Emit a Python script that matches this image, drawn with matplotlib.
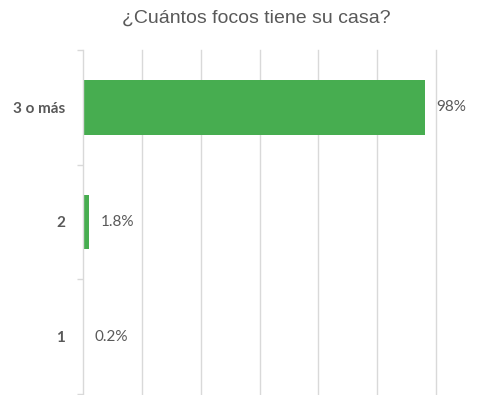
import numpy as np
import matplotlib
matplotlib.use("Agg")
import matplotlib.pyplot as plt

categories = ["1", "2", "3 o más"]
values = [0.2, 1.8, 98.0]
labels = ["0.2%", "1.8%", "98%"]

GREEN = "#47AD50"
GRID = "#D9D9D9"
TXT = "#595959"

fig = plt.figure(figsize=(4.86, 3.95), dpi=100)
ax = fig.add_axes([0.171, 0.003, 0.726, 0.870])

y = np.arange(len(categories))
ax.barh(y, values, height=0.475, color=GREEN, linewidth=0, zorder=2)

xmax = 101
ax.set_xlim(0, xmax)
ax.set_ylim(-0.5, len(categories) - 0.5)
for gx in np.linspace(0, xmax, 7)[1:]:
    ax.axvline(gx, color=GRID, lw=1, zorder=1, clip_on=False)

for yi, v, lab in zip(y, values, labels):
    ax.annotate(lab, (v, yi), xytext=(8, 0), textcoords="offset points",
                va="center", ha="left", fontsize=11, color=TXT, family="Lato")

ax.set_yticks(y)
ax.set_yticklabels(categories, fontsize=11, fontweight="bold", color=TXT, family="Lato")
ax.set_yticks(np.arange(-0.5, len(categories), 1), minor=True)
ax.tick_params(axis="y", which="major", length=0, pad=13)
ax.tick_params(axis="y", which="minor", length=4, color=GRID, width=1)
ax.set_xticks([])

for side in ["top", "right", "bottom"]:
    ax.spines[side].set_visible(False)
ax.spines["left"].set_color(GRID)
ax.spines["left"].set_linewidth(1)
ax.spines["left"].set_zorder(3)

fig.text(0.528, 0.953, "¿Cuántos focos tiene su casa?", ha="center", va="center",
         fontsize=14, color=TXT, family="Liberation Sans")

fig.savefig("out.png", dpi=100)
